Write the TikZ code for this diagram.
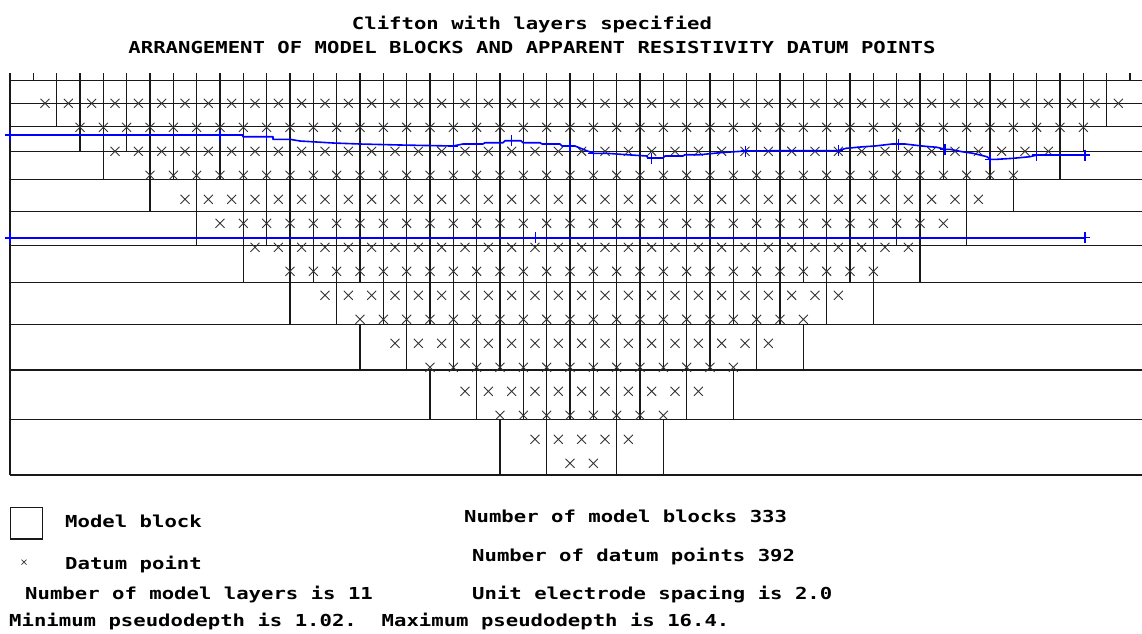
\documentclass[tikz,border=0pt]{standalone}
\usepackage{fontspec}
\newfontfamily\dosfont[FakeStretch=1.25]{DejaVu Sans Mono}
\newcommand\lyr[3]{\foreach \k in {#3} {\draw[grid] ({10+23.3333*\k},#1) -- ({10+23.3333*\k},#2);}}
\newcommand\bplus[2]{\draw[bplusst] (#1,{#2-5.5}) -- (#1,{#2+5.5}) ({#1-5},#2) -- ({#1+5},#2);}
\begin{document}
\begin{tikzpicture}[x=1pt,y=-1pt,
  grid/.style={draw=black!90, line width=1.4pt},
  xmark/.style={draw=black!80, line width=0.9pt},
  bline/.style={draw=blue, line width=1.6pt, line join=round},
  bplusst/.style={draw=blue, line width=1.3pt},
  txt/.style={inner sep=0pt, anchor=base west, font=\dosfont\bfseries\fontsize{16.5}{18}\selectfont},
  ttl/.style={inner sep=0pt, anchor=base, font=\dosfont\bfseries\fontsize{16.5}{18}\selectfont}]
\useasboundingbox (0,0) rectangle (1142,633);
\fill[white] (0,0) rectangle (1142,633);
\begin{scope}
\clip (0,0) rectangle (1142,633);
% horizontal layer boundaries
\foreach \y in {80.7,103.3,126.7,151.7,179.3,211.5,245.7,282.3,324.5,370,419.3,475}
  \draw[grid] (10,\y) -- (1160,\y);
% left border and electrode ticks
\draw[grid] (10,73.3) -- (10,475);
\foreach \k in {1,...,48} \draw[grid] ({10+23.3333*\k},73.3) -- ({10+23.3333*\k},80.7);
% block boundaries per layer
\lyr{80.7}{103.3}{2,...,47}
\lyr{103.3}{126.7}{2,...,47}
\lyr{126.7}{151.7}{3,...,46}
\lyr{151.7}{179.3}{6,...,43}
\lyr{151.7}{179.3}{4,45}
\lyr{179.3}{211.5}{10,...,39}
\lyr{179.3}{211.5}{6,8,41,43}
\lyr{211.5}{245.7}{10,...,39}
\lyr{211.5}{245.7}{8,41}
\lyr{245.7}{282.3}{12,...,37}
\lyr{245.7}{282.3}{10,39}
\lyr{282.3}{324.5}{16,...,33}
\lyr{282.3}{324.5}{12,14,35,37}
\lyr{324.5}{370}{19,...,30}
\lyr{324.5}{370}{15,17,32,34}
\lyr{370}{419.3}{22,...,27}
\lyr{370}{419.3}{18,20,29,31}
\lyr{419.3}{475}{21,23,26,28}
% datum points
\foreach \n in {1,...,16}{
  \pgfmathtruncatemacro\m{49-3*\n}
  \pgfmathsetmacro\yy{79.3+24*\n}
  \foreach \j in {0,...,\m}{
    \pgfmathsetmacro\xx{10+23.3333*(1.5*\n+\j)}
    \draw[xmark] ({\xx-4.5},{\yy-4.5}) -- ({\xx+4.5},{\yy+4.5}) ({\xx-4.5},{\yy+4.5}) -- ({\xx+4.5},{\yy-4.5});
  }
}
% blue boundary 1
\draw[bline] (5,135) -- (243,135) -- (243,136.7) -- (273,136.7) -- (273,139.3) -- (290,139.3)
  -- (300,141) -- (333,143) -- (360,144) -- (400,145) -- (453,146) -- (463,144) -- (483,144)
  -- (485,142.7) -- (503,142.7) -- (505,140.7) -- (521,140.7) -- (523,142.7) -- (540,142.7)
  -- (542,144) -- (560,144) -- (562,146) -- (575,146) -- (586.7,150.7) -- (593.3,153.3)
  -- (606.7,153.3) -- (626.7,154.7) -- (646.7,156) -- (648,158) -- (663,158) -- (665,156)
  -- (683,156) -- (685,154.7) -- (700,154.7) -- (720,152.7) -- (745,151) -- (783,150.7)
  -- (838,150.7) -- (846,148.3) -- (864,146.7) -- (875,146) -- (892,144) -- (905,144)
  -- (922,146) -- (937,147.3) -- (945,149.3) -- (950,149.3) -- (962,151.7) -- (973,153.3)
  -- (987,156.7) -- (990,159.3) -- (997,159.3) -- (1013,158.3) -- (1030,156.7) -- (1037,155)
  -- (1085,155);
\bplus{10}{135}
\bplus{220}{135}
\bplus{266.7}{136.7}
\bplus{453.3}{146}
\bplus{511.7}{140.7}
\bplus{570}{146}
\bplus{593.3}{153.3}
\bplus{651.7}{158}
\bplus{745.6}{151}
\bplus{838.4}{150.7}
\bplus{898.3}{144}
\bplus{945}{149.3}
\bplus{990}{159.3}
\bplus{1036.7}{155}
\bplus{1085}{155}
% blue boundary 2
\draw[bline] (5,237.7) -- (1085,237.7);
\bplus{10}{237.7}
\bplus{535.7}{237.7}
\bplus{1085}{237.7}
\end{scope}
% titles
\node[ttl] (t1) at (532,29) {Clifton with layers specified};
\node[ttl] (t2) at (532,53) {ARRANGEMENT OF MODEL BLOCKS AND APPARENT RESISTIVITY DATUM POINTS};
% legend
\node[draw=black!90, line width=1.4pt, minimum width=31.7pt, minimum height=31.7pt, inner sep=0pt, anchor=north west] (lb) at (10,506.7) {};
\draw[xmark, line width=0.7pt] (21.5,559.5) -- (26.5,564.5) (21.5,564.5) -- (26.5,559.5);
\node[txt] (l1) at (65,527) {Model block};
\node[txt] (l2) at (65,569) {Datum point};
\node[txt] (l3) at (25,599) {Number of model layers is 11};
\node[txt] (l4) at (9,626) {Minimum pseudodepth is 1.02.~~Maximum pseudodepth is 16.4.};
\node[txt] (r1) at (464,522) {Number of model blocks 333};
\node[txt] (r2) at (472,561) {Number of datum points 392};
\node[txt] (r3) at (472,599) {Unit electrode spacing is 2.0};
\end{tikzpicture}
\end{document}
